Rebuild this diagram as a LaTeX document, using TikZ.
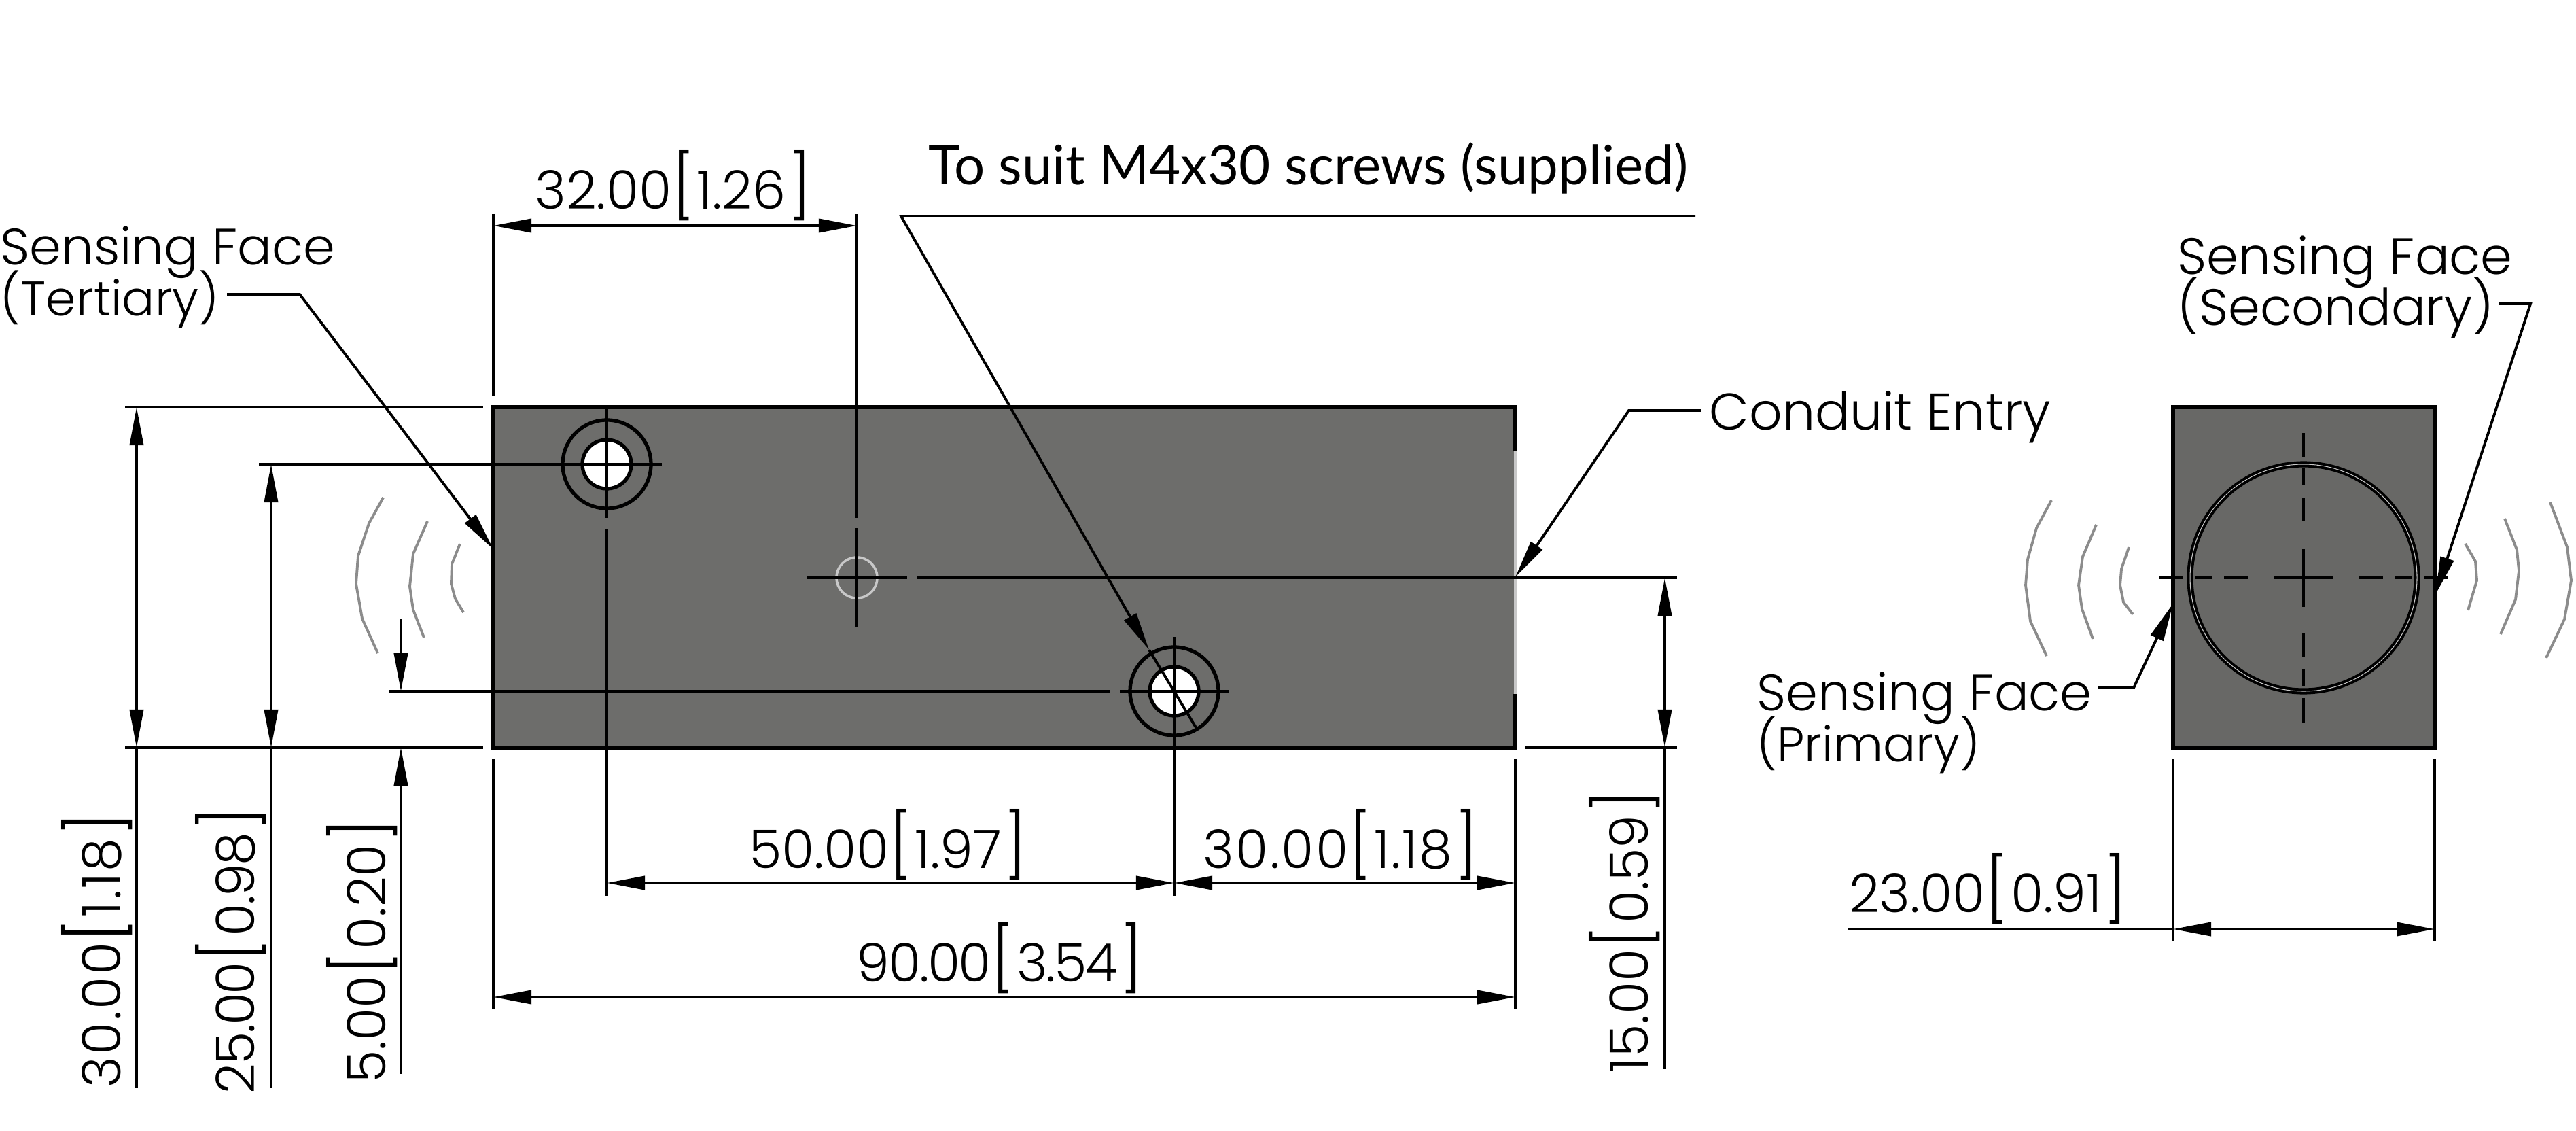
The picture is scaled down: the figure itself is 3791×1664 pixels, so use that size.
\documentclass[tikz,border=0pt]{standalone}
\usepackage{fontspec}
\setmainfont{Poppins Light}
\newfontfamily\latofont{Lato}
\usetikzlibrary{arrows.meta}
\setlength{\lineskiplimit}{-30pt}
\definecolor{blockgrey}{HTML}{6D6D6B}
\definecolor{endgrey}{HTML}{686866}
\definecolor{wavegrey}{HTML}{8C8C8C}
\definecolor{markgrey}{HTML}{C8C8C8}
\newcommand{\dimtxt}[2]{#1{\fontsize{26.5}{26.5}\selectfont[}\kern1pt #2\kern1pt{\fontsize{26.5}{26.5}\selectfont]}}
\newcommand{\wider}{\addfontfeature{LetterSpace=3}}
\newcommand{\tighter}{\addfontfeature{LetterSpace=-3}}
\newcommand{\lastline}{\fontsize{20.3}{21.3}\selectfont}
\tikzset{
    dimline/.style={line width=1.1pt},
    dimarrow/.style={line width=1.1pt, {Triangle[length=0.56cm, width=0.2cm]}-{Triangle[length=0.56cm, width=0.2cm]}},
    leader/.style={line width=1.1pt, -{Triangle[length=0.56cm, width=0.2cm]}},
    block/.style={draw, line width=1.5pt},
    wave/.style={draw=wavegrey, line width=1.1pt},
    dimlabel/.style={inner sep=0pt, font=\fontsize{22.2}{22.2}\selectfont},
    facelabel/.style={inner sep=0pt, align=left, anchor=west, font=\fontsize{21.4}{21.3}\selectfont}
}
\begin{document}
\begin{tikzpicture}[x=0.01cm, y=-0.01cm]
    \useasboundingbox (0,0) rectangle (3791,1664);
    \coordinate (tl) at (726,599);
    \coordinate (tr) at (2230,599);
    \coordinate (bl) at (726,1100);
    \coordinate (br) at (2230,1100);
    \coordinate (endtl) at (3198,599);
    \coordinate (endbr) at (3583,1100);
    \coordinate (holeA) at (893,683);
    \coordinate (holeB) at (1728,1017);
    \coordinate (mark) at (1261,850);
    \coordinate (bore) at (3390,850);
    % bodies
    \fill [blockgrey] (tl) rectangle (br);
    \draw [block] (2230,664) -- (tr) -- (tl) -- (bl) -- (br) -- (2230,1021);
    \draw [markgrey, line width=1.1pt] (2230,664) -- (2230,1021);
    \draw [block, fill=endgrey] (endtl) rectangle (endbr);
    \draw [line width=2.6pt] (bore) circle (167);
    \draw [markgrey, line width=0.3pt] (bore) circle (167);
    % holes
    \draw [block, fill=white] (holeA) circle (36);
    \draw [block] (holeA) circle (65);
    \draw [block, fill=white] (holeB) circle (36);
    \draw [block] (holeB) circle (65);
    \draw [markgrey, line width=1pt] (mark) circle (30);
    % centre lines
    \draw [dimline] (381,683) -- (974,683);
    \draw [dimline] (893,601) -- (893,762);
    \draw [dimline] (893,778) -- (893,1318);
    \draw [dimline] (573,1017) -- (1633,1017);
    \draw [dimline] (1648,1017) -- (1809,1017);
    \draw [dimline] (1728,937) -- (1728,1318);
    \draw [dimline] (1261,315) -- (1261,762);
    \draw [dimline] (1261,777) -- (1261,923);
    \draw [dimline] (1187,850) -- (1335,850);
    \draw [dimline] (1349,850) -- (2468,850);
    \foreach \a/\b in {3178/3213, 3230/3255, 3273/3308, 3347/3433, 3472/3507, 3525/3549, 3567/3603}
        \draw [dimline] (\a,850) -- (\b,850);
    \foreach \a/\b in {637/672, 689/714, 732/767, 807/893, 932/967, 985/1010, 1027/1063}
        \draw [dimline] (3390,\a) -- (3390,\b);
    % extension lines
    \draw [dimline] (184,599) -- (711,599);
    \draw [dimline] (184,1100) -- (711,1100);
    \draw [dimline] (2245,1100) -- (2468,1100);
    \draw [dimline] (726,315) -- (726,583);
    \draw [dimline] (726,1116) -- (726,1485);
    \draw [dimline] (2230,1116) -- (2230,1485);
    \draw [dimline] (3198,1116) -- (3198,1384);
    \draw [dimline] (3583,1116) -- (3583,1384);
    % dimensions
    \draw [dimarrow] (726,332) -- (1261,332);
    \draw [dimarrow] (201,599) -- (201,1100);
    \draw [dimline] (201,1100) -- (201,1601);
    \draw [dimarrow] (399,683) -- (399,1100);
    \draw [dimline] (399,1100) -- (399,1601);
    \draw [leader] (590,911) -- (590,1017);
    \draw [leader] (590,1580) -- (590,1100);
    \draw [dimarrow] (2450,850) -- (2450,1100);
    \draw [dimline] (2450,1100) -- (2450,1573);
    \draw [dimarrow] (893,1299) -- (1728,1299);
    \draw [dimarrow] (1728,1299) -- (2230,1299);
    \draw [dimarrow] (726,1467) -- (2230,1467);
    \draw [dimarrow] (3198,1367) -- (3583,1367);
    \draw [dimline] (2720,1367) -- (3198,1367);
    % leaders
    \draw [leader] (334,433) -- (441,433) -- (726,808);
    \draw [leader] (2495,318) -- (1326,318) -- (1691,956);
    \draw [dimline] (1691,956) -- (1761,1072);
    \draw [leader] (2503,604) -- (2397,604) -- (2230,849);
    \draw [leader] (3677,447) -- (3724,447) -- (3584,875);
    \draw [leader] (3088,1012) -- (3140,1012) -- (3198,888);
    % waves
    \draw [wave] (564,732) -- (543,770) -- (527,818) -- (524,859) -- (533,910) -- (556,961);
    \draw [wave] (629,767) -- (608,815) -- (603,863) -- (608,897) -- (624,938);
    \draw [wave] (677,800) -- (665,830) -- (664,859) -- (670,881) -- (682,901);
    \draw [wave] (3019,736) -- (2997,777) -- (2984,823) -- (2981,861) -- (2988,914) -- (3012,965);
    \draw [wave] (3085,772) -- (3065,819) -- (3059,861) -- (3064,896) -- (3080,940);
    \draw [wave] (3133,805) -- (3122,837) -- (3120,861) -- (3125,886) -- (3139,904);
    \draw [wave] (3628,800) -- (3643,826) -- (3645,854) -- (3632,898);
    \draw [wave] (3686,763) -- (3704,809) -- (3707,840) -- (3702,882) -- (3680,933);
    \draw [wave] (3753,739) -- (3778,805) -- (3784,854) -- (3774,911) -- (3747,968);
    % labels
    \node [dimlabel] (dimTop) at (991,273) {\dimtxt{32.00}{1.26}};
    \node [dimlabel] (dimHoleA) at (1307,1243) {\dimtxt{50.00}{1.97}};
    \node [dimlabel] (dimHoleB) at (1973,1243) {\wider\dimtxt{30.00}{1.18}};
    \node [dimlabel] (dimLength) at (1472,1410) {\tighter\dimtxt{90.00}{3.54}};
    \node [dimlabel] (dimWidth) at (2926,1308) {\dimtxt{23.00}{0.91}};
    \node [dimlabel, rotate=90] (dimHeight) at (143,1398) {\wider\dimtxt{30.00}{1.18}};
    \node [dimlabel, rotate=90] (dimHoleY) at (340,1398) {\tighter\dimtxt{25.00}{0.98}};
    \node [dimlabel, rotate=90] (dimHoleZ) at (533,1399) {\dimtxt{5.00}{0.20}};
    \node [dimlabel, rotate=90] (dimMid) at (2391,1370) {\dimtxt{15.00}{0.59}};
    \node [facelabel] (faceTertiary) at (0,408) {Sensing Face\\{\lastline(Tertiary)}};
    \node [facelabel] (faceSecondary) at (3204,422) {Sensing Face\\(Secondary)};
    \node [facelabel] (facePrimary) at (2585,1064) {Sensing Face\\{\lastline(Primary)}};
    \node [inner sep=0pt, anchor=west, font=\fontsize{21.6}{21.6}\selectfont] (conduit) at (2515,614) {Conduit Entry};
    \node [inner sep=0pt, anchor=base west, font=\latofont\fontsize{22.7}{22.7}\selectfont] (screws) at (1366,272) {To suit M4x30 screws (supplied)};
\end{tikzpicture}
\end{document}
